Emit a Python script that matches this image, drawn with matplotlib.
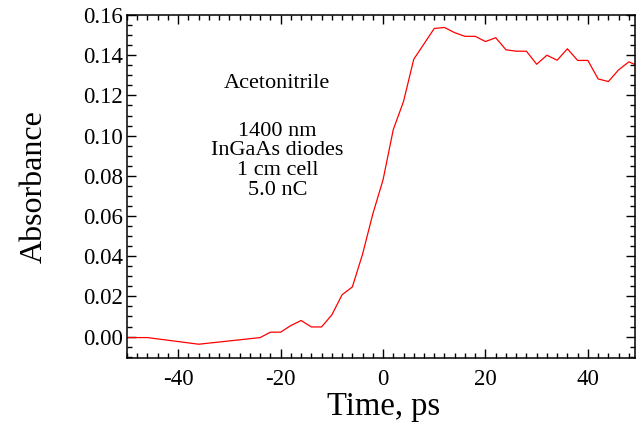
import numpy as np
import matplotlib.pyplot as plt
from matplotlib.ticker import MultipleLocator

# time (ps) and absorbance
time_ps = [-50, -46, -36, -24, -22, -20, -18, -16, -14, -12, -10, -8, -6, -4, -2, 0,
           2, 4, 6, 10, 12, 14, 16, 18, 20, 22, 24, 26, 28, 30, 32, 34, 36, 38, 40,
           42, 44, 46, 48, 50]
absorbance = [-0.0005, -0.0005, -0.0038, -0.0005, 0.0022, 0.0022, 0.0055, 0.0080,
              0.0048, 0.0048, 0.0108, 0.0208, 0.0247, 0.0410, 0.0610, 0.0780,
              0.1030, 0.1170, 0.1380, 0.1533, 0.1538, 0.1512, 0.1494, 0.1494,
              0.1468, 0.1487, 0.1427, 0.1420, 0.1420, 0.1355, 0.1400, 0.1375,
              0.1432, 0.1374, 0.1374, 0.1282, 0.1269, 0.1327, 0.1367, 0.1345]

info_title = "Acetonitrile"
info_lines = ["1400 nm", "InGaAs diodes", "1 cm cell", "5.0 nC"]

plt.rcParams['font.family'] = ['Liberation Serif', 'DejaVu Serif']
plt.rcParams['axes.unicode_minus'] = False

fig = plt.figure(figsize=(6.36, 4.23), dpi=100)
ax = fig.add_axes([0.1997, 0.1544, 0.7987, 0.8101])

ax.plot(time_ps, absorbance, color='red', lw=0.9)

ax.set_xlim(-50, 49.2)
ax.set_ylim(-0.0105, 0.16)
ax.xaxis.set_major_locator(MultipleLocator(20))
ax.xaxis.set_minor_locator(MultipleLocator(2))
ax.yaxis.set_major_locator(MultipleLocator(0.02))
ax.yaxis.set_minor_locator(MultipleLocator(0.005))
ax.yaxis.set_major_formatter(plt.FormatStrFormatter('%.2f'))

ax.tick_params(which='both', direction='in', top=True, right=True, labelsize=16.5, width=1)
ax.tick_params(which='major', length=6.5)
ax.tick_params(which='minor', length=3.5)
ax.tick_params(axis='x', pad=8)
ax.tick_params(axis='y', pad=3)
for s in ax.spines.values():
    s.set_linewidth(1.1)

ax.set_xlabel("Time, ps", fontsize=23.5)
ax.xaxis.set_label_coords(0.505, -0.168)
ax.xaxis.label.set_va('baseline')
ax.set_ylabel("Absorbance", fontsize=23)
ax.yaxis.set_label_coords(-0.155, 0.5)

ax.text(0.296, 0.80, info_title, transform=ax.transAxes, ha='center', va='center', fontsize=16)
ax.text(0.296, 0.575, "\n".join(info_lines), transform=ax.transAxes, ha='center', va='center',
        fontsize=16, linespacing=1.05)

fig.savefig("out.png", dpi=100)
